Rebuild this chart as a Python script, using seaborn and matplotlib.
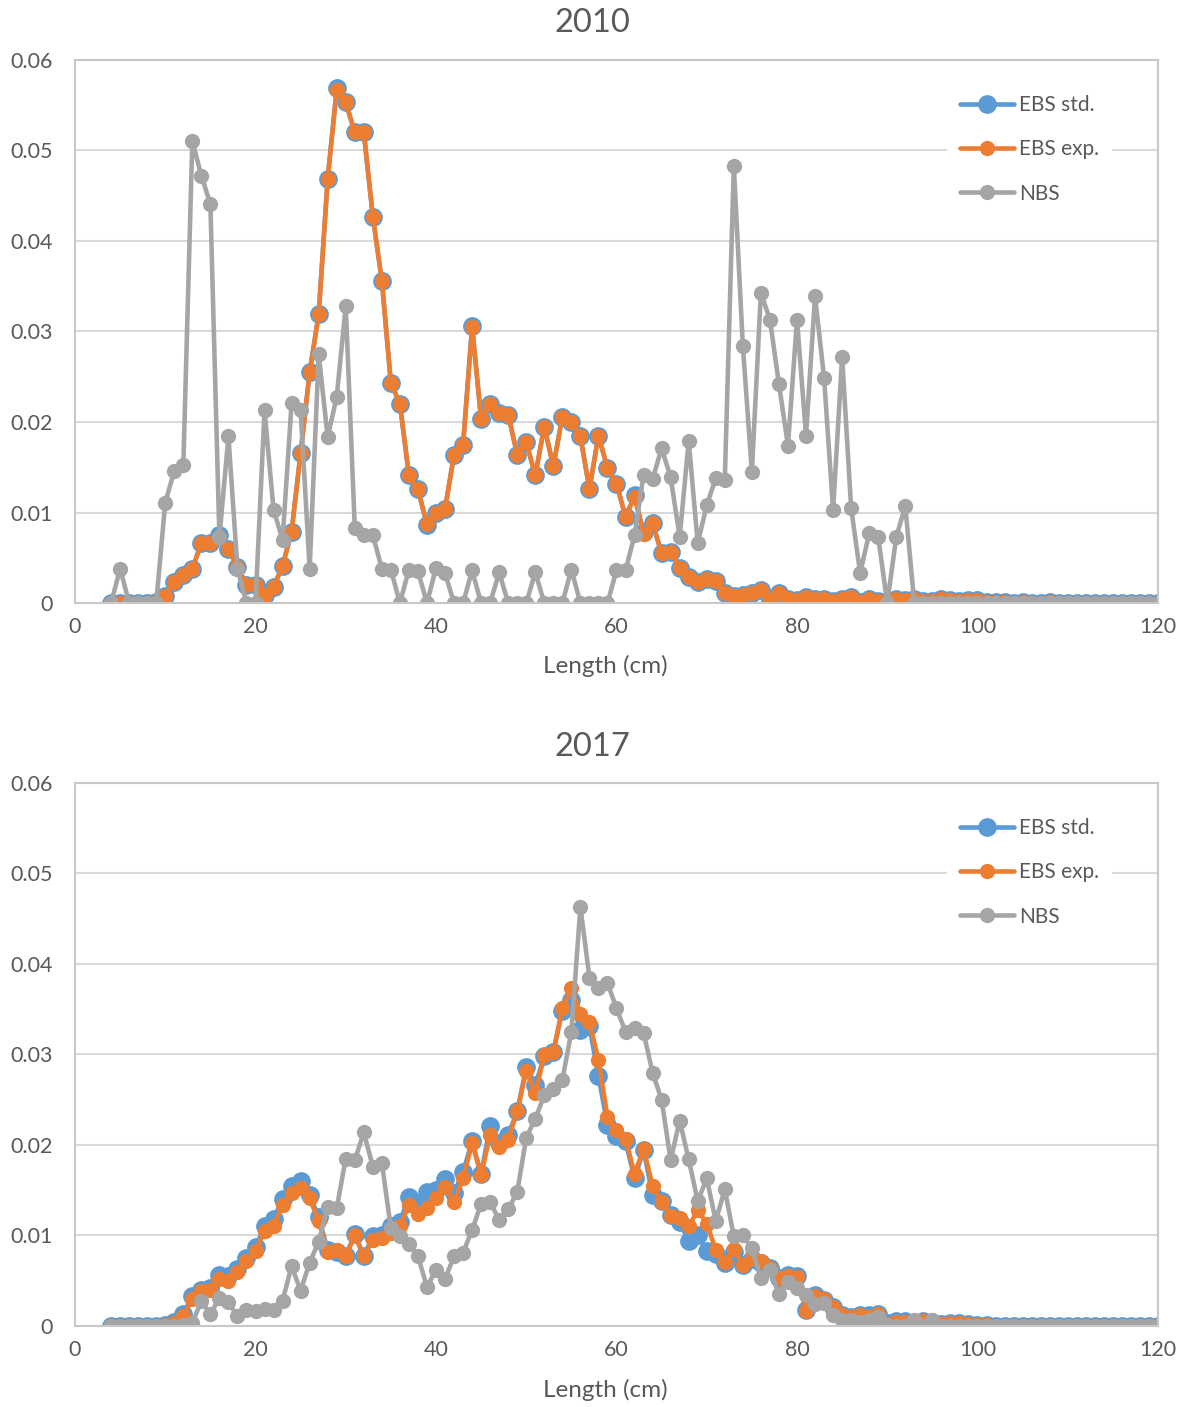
import numpy as np
import pandas as pd
import matplotlib
matplotlib.use('Agg')
import matplotlib.pyplot as plt
import seaborn as sns
from matplotlib.ticker import FuncFormatter

# comprimentos (cm)
length = np.arange(4, 121)

# 2010
ebs_std_2010 = [0, 0, 0, 0, 0, 0.0001,
                0.0008, 0.0023, 0.0031, 0.0038, 0.0066, 0.0066, 0.0075, 0.006, 0.004, 0.002,
                0.002, 0.0009, 0.0018, 0.0041, 0.0079, 0.0166, 0.0255, 0.0319, 0.0469, 0.0569,
                0.0553, 0.052, 0.052, 0.0427, 0.0356, 0.0243, 0.022, 0.0141, 0.0126, 0.0086,
                0.0099, 0.0104, 0.0164, 0.0175, 0.0306, 0.0203, 0.022, 0.021, 0.0208, 0.0164,
                0.0178, 0.0141, 0.0195, 0.0151, 0.0206, 0.02, 0.0184, 0.0126, 0.0185, 0.0149,
                0.0132, 0.0095, 0.0119, 0.0078, 0.0088, 0.0055, 0.0056, 0.0039, 0.0029, 0.0023,
                0.0027, 0.0024, 0.0011, 0.0008, 0.0009, 0.0011, 0.0014, 0.0003, 0.0011, 0.0004,
                0.0003, 0.0007, 0.0005, 0.0004, 0.0002, 0.0005, 0.0007, 0.0001, 0.0004, 0.0002,
                0.0002, 0.0004, 0.0003, 0.0004, 0.0002, 0.0002, 0.0004, 0.0003, 0.0002, 0.0003,
                0.0003, 0.0001, 0.0001, 0.0001, 0, 0.0001, 0, 0, 0.0001, 0,
                0, 0, 0, 0, 0, 0, 0, 0, 0, 0,
                0]
ebs_exp_2010 = [0, 0, 0, 0, 0, 0.0001,
                0.0008, 0.0023, 0.0031, 0.0038, 0.0066, 0.0066, 0.0073, 0.006, 0.004, 0.002,
                0.002, 0.0009, 0.0018, 0.0041, 0.0079, 0.0166, 0.0255, 0.0319, 0.0469, 0.0567,
                0.0553, 0.052, 0.052, 0.0427, 0.0356, 0.0243, 0.022, 0.0141, 0.0126, 0.0087,
                0.0099, 0.0104, 0.0164, 0.0175, 0.0305, 0.0203, 0.022, 0.021, 0.0208, 0.0164,
                0.0178, 0.0141, 0.0195, 0.0151, 0.0206, 0.02, 0.0184, 0.0126, 0.0185, 0.0149,
                0.0132, 0.0095, 0.0117, 0.0076, 0.0088, 0.0055, 0.0056, 0.0039, 0.0029, 0.0023,
                0.0027, 0.0024, 0.0011, 0.0008, 0.0009, 0.0011, 0.0014, 0.0003, 0.0011, 0.0004,
                0.0003, 0.0007, 0.0005, 0.0004, 0.0002, 0.0005, 0.0007, 0.0001, 0.0004, 0.0002,
                0.0002, 0.0004, 0.0003, 0.0004, 0.0002, 0.0002, 0.0004, 0.0003, 0.0002, 0.0003,
                0.0003, 0.0001, 0.0001, 0.0001, 0, 0.0001, 0, 0, 0.0001, 0,
                0, 0, 0, 0, 0, 0, 0, 0, 0, 0,
                0]
nbs_2010 = [0, 0.0038, 0, 0, 0, 0,
            0.0111, 0.0146, 0.0152, 0.051, 0.0472, 0.0441, 0.0073, 0.0184, 0.0038, 0,
            0, 0.0213, 0.0103, 0.007, 0.0221, 0.0213, 0.0038, 0.0275, 0.0183, 0.0228,
            0.0328, 0.0083, 0.0075, 0.0075, 0.0038, 0.0037, 0, 0.0037, 0.0035, 0,
            0.0039, 0.0033, 0, 0, 0.0036, 0, 0, 0.0034, 0, 0,
            0, 0.0034, 0, 0, 0, 0.0037, 0, 0, 0, 0,
            0.0036, 0.0036, 0.0075, 0.0142, 0.0137, 0.0171, 0.0139, 0.0073, 0.0179, 0.0066,
            0.0108, 0.0138, 0.0136, 0.0483, 0.0284, 0.0145, 0.0343, 0.0313, 0.0242, 0.0174,
            0.0313, 0.0185, 0.0339, 0.0249, 0.0103, 0.0272, 0.0105, 0.0033, 0.0077, 0.0073,
            0, 0.0073, 0.0107, 0, 0, 0, 0, 0, 0, 0,
            0, 0, 0, 0, 0, 0, 0, 0, 0, 0,
            0, 0, 0, 0, 0, 0, 0, 0, 0, 0,
            0]

# 2017
ebs_std_2017 = [0, 0, 0, 0, 0, 0,
                0.0001, 0.0004, 0.0013, 0.0033, 0.004, 0.0042, 0.0056, 0.0055, 0.0063, 0.0075,
                0.0087, 0.011, 0.0118, 0.014, 0.0155, 0.016, 0.0145, 0.012, 0.0084, 0.0082,
                0.0077, 0.0102, 0.0077, 0.0099, 0.01, 0.011, 0.0115, 0.0143, 0.0136, 0.0148,
                0.015, 0.0162, 0.0147, 0.017, 0.0204, 0.0168, 0.0221, 0.0202, 0.0211, 0.0237,
                0.0286, 0.0266, 0.0298, 0.0303, 0.0348, 0.036, 0.0327, 0.0331, 0.0276, 0.0222,
                0.021, 0.0204, 0.0163, 0.0194, 0.0145, 0.0138, 0.0123, 0.0115, 0.0094, 0.01,
                0.0083, 0.0079, 0.007, 0.0082, 0.0067, 0.0074, 0.007, 0.0064, 0.0053, 0.0056,
                0.0055, 0.0018, 0.0034, 0.0029, 0.0021, 0.0012, 0.001, 0.0012, 0.0012, 0.0013,
                0.0003, 0.0005, 0.0005, 0.0003, 0.0005, 0.0004, 0.0002, 0.0003, 0.0003, 0.0002,
                0.0001, 0.0001, 0, 0, 0, 0, 0, 0, 0, 0,
                0, 0, 0, 0, 0, 0, 0, 0, 0, 0,
                0]
ebs_exp_2017 = [0, 0, 0, 0, 0, 0,
                0.0001, 0.0003, 0.0011, 0.003, 0.0039, 0.004, 0.0052, 0.005, 0.006, 0.0072,
                0.0083, 0.0105, 0.0111, 0.0134, 0.0147, 0.0153, 0.0141, 0.0116, 0.0082, 0.0084,
                0.0077, 0.01, 0.0077, 0.0095, 0.0097, 0.0103, 0.011, 0.0134, 0.0124, 0.013,
                0.0141, 0.0154, 0.0137, 0.0163, 0.0202, 0.0167, 0.0211, 0.0198, 0.0206, 0.0237,
                0.0282, 0.0257, 0.0299, 0.0303, 0.0351, 0.0373, 0.0345, 0.0336, 0.0294, 0.0231,
                0.0217, 0.0207, 0.0168, 0.0196, 0.0155, 0.0137, 0.0121, 0.0119, 0.011, 0.0128,
                0.0113, 0.0084, 0.0071, 0.0085, 0.0067, 0.0075, 0.0072, 0.0064, 0.0053, 0.0055,
                0.0054, 0.0017, 0.0033, 0.003, 0.0021, 0.0012, 0.001, 0.0012, 0.001, 0.0013,
                0.0002, 0.0004, 0.0004, 0.0002, 0.0005, 0.0004, 0.0002, 0.0003, 0.0003, 0.0002,
                0.0001, 0.0001, 0, 0, 0, 0, 0, 0, 0, 0,
                0, 0, 0, 0, 0, 0, 0, 0, 0, 0,
                0]
nbs_2017 = [0, 0, 0, 0, 0, 0,
            0, 0, 0.0001, 0.0003, 0.0028, 0.0013, 0.0031, 0.0026, 0.0011, 0.0018,
            0.0017, 0.0019, 0.0018, 0.0028, 0.0066, 0.0039, 0.007, 0.0093, 0.0132, 0.013,
            0.0185, 0.0183, 0.0214, 0.0176, 0.018, 0.0108, 0.0099, 0.0091, 0.0077, 0.0043,
            0.0062, 0.0052, 0.0077, 0.0081, 0.0106, 0.0135, 0.0137, 0.0117, 0.0129, 0.0148,
            0.0208, 0.0229, 0.0255, 0.0262, 0.0272, 0.0325, 0.0463, 0.0385, 0.0373, 0.0379,
            0.0351, 0.0325, 0.0329, 0.0324, 0.028, 0.025, 0.0183, 0.0227, 0.0184, 0.0138,
            0.0163, 0.0116, 0.0151, 0.0099, 0.01, 0.0086, 0.0053, 0.0062, 0.0035, 0.0049,
            0.0042, 0.0034, 0.0024, 0.0025, 0.0012, 0.0007, 0.0007, 0.0004, 0.0007, 0.001,
            0.0001, 0, 0, 0.0007, 0, 0.0007, 0, 0, 0, 0,
            0, 0, 0, 0, 0, 0, 0, 0, 0, 0,
            0, 0, 0, 0, 0, 0, 0, 0, 0, 0,
            0]

years = ['2010', '2017']
series = {
    '2010': (ebs_std_2010, ebs_exp_2010, nbs_2010),
    '2017': (ebs_std_2017, ebs_exp_2017, nbs_2017),
}

sns.set_style('white')
plt.rcParams['font.family'] = ['Lato', 'DejaVu Sans']

texto = '#595959'
azul = '#5B9BD5'
laranja = '#ED7D31'
cinza = '#A5A5A5'

fig = plt.figure(figsize=(11.85, 14.07), dpi=100)

# posicoes dos dois paineis (em fracao da figura)
paineis = [[0.0633, 0.5714, 0.9139, 0.3860],
           [0.0633, 0.0576, 0.9139, 0.3859]]
titulo_y = [0.9833, 0.4694]
rotulo_y = [0.5267, 0.0121]

for i, ano in enumerate(years):
    ax = fig.add_axes(paineis[i])
    std, exp, nbs = series[ano]
    df = pd.DataFrame({'Length': length, 'EBS std.': std, 'EBS exp.': exp, 'NBS': nbs})

    sns.lineplot(data=df, x='Length', y='EBS std.', ax=ax, color=azul, marker='o',
                 markersize=13.5, markeredgewidth=0, linewidth=3.3, label='EBS std.')
    sns.lineplot(data=df, x='Length', y='EBS exp.', ax=ax, color=laranja, marker='o',
                 markersize=11, markeredgewidth=0, linewidth=3.3, label='EBS exp.')
    sns.lineplot(data=df, x='Length', y='NBS', ax=ax, color=cinza, marker='o',
                 markersize=11, markeredgewidth=0, linewidth=3.3, label='NBS')

    ax.set_xlim(0, 120)
    ax.set_ylim(0, 0.06)
    ax.set_xticks(range(0, 121, 20))
    ax.set_yticks(np.arange(0, 0.061, 0.01))
    ax.yaxis.set_major_formatter(FuncFormatter(lambda v, _: '0' if abs(v) < 1e-9 else f'{v:.2f}'))
    ax.tick_params(axis='both', length=0, labelsize=15.5, labelcolor=texto)
    ax.tick_params(axis='y', pad=16)
    ax.tick_params(axis='x', pad=10)
    ax.set_xlabel('')
    ax.set_ylabel('')
    ax.grid(axis='y', color='#D9D9D9', linewidth=1.5)
    ax.set_axisbelow(True)
    for lado in ax.spines.values():
        lado.set_visible(True)
        lado.set_color('#C8C8C8')
        lado.set_linewidth(1.5)

    leg = ax.legend(loc='upper left', bbox_to_anchor=(0.796, 0.978), frameon=True,
                    facecolor='white', edgecolor='none', framealpha=1, fontsize=15,
                    handlelength=2.6, labelspacing=1.17, handletextpad=0.25, borderpad=0.6)
    for t in leg.get_texts():
        t.set_color(texto)

    fig.text(0.5, titulo_y[i], ano, ha='center', va='center', fontsize=23.5, color=texto)
    fig.text(0.5105, rotulo_y[i], 'Length (cm)', ha='center', va='center', fontsize=17.5, color=texto)

fig.savefig('out.png', dpi=100)
